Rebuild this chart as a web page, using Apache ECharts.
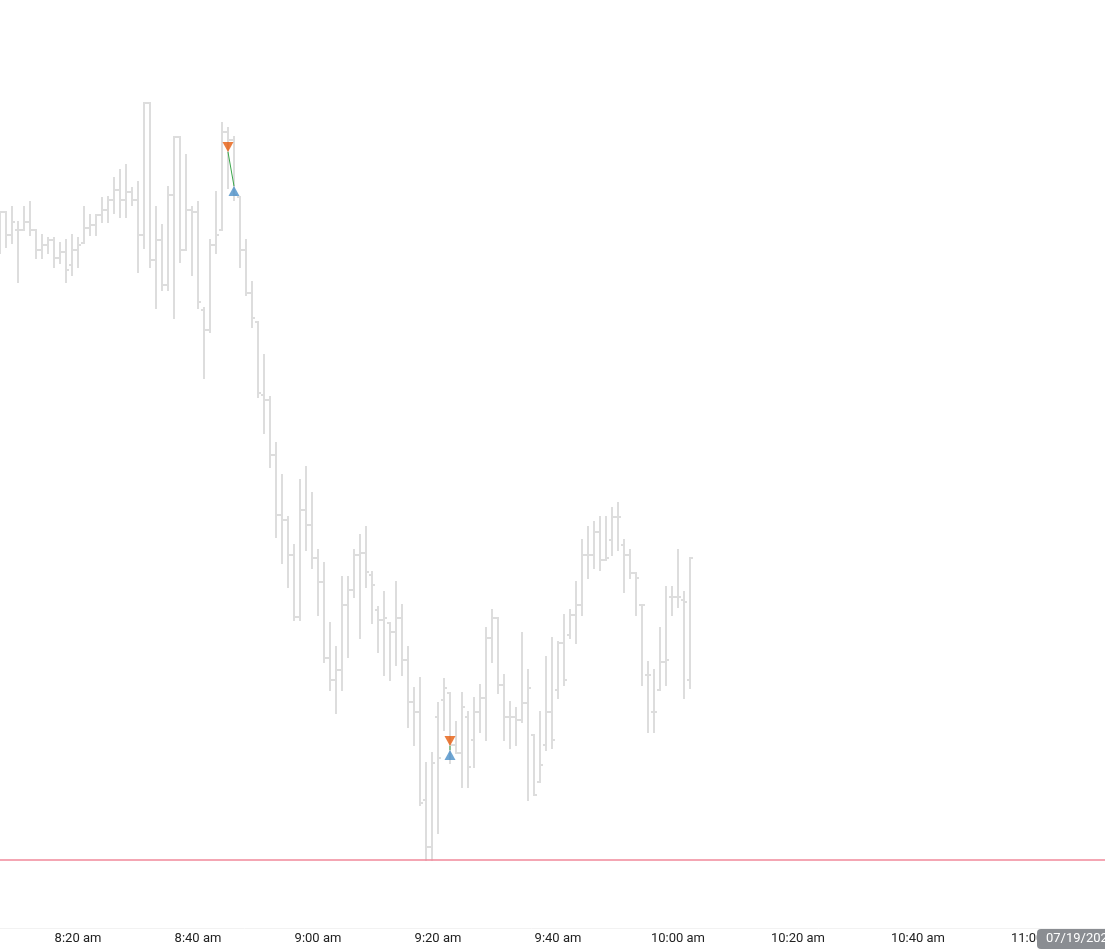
<!DOCTYPE html>
<html>
<head>
<meta charset="utf-8">
<script src="https://cdn.jsdelivr.net/npm/echarts/dist/echarts.min.js"></script>
<style>
    html, body { margin: 0; padding: 0; background: #fff; overflow: hidden; }
    #chart { width: 1105px; height: 949px; }
</style>
</head>
<body>
<div id="chart"></div>

<script>
    // 1 minute bars, first one at 08:07 on 07/19/2023
    var sessionDay = [2023, 6, 19];
    var firstBar = [8, 7];
    var axisStart = [8, 0];
    var viewMinutes = 184.17;

    var barOpen = [
        156.20, 156.48, 156.25, 156.30, 156.30, 156.38, 156.30, 156.10, 156.15, 156.20,
        156.02, 156.08, 155.95, 156.10, 156.17, 156.32, 156.35, 156.45, 156.50, 156.60,
        156.70, 156.60, 156.68, 156.60, 156.25, 157.57, 156.00, 156.20, 155.75, 156.65,
        157.23, 156.10, 156.50, 156.48, 155.50, 155.30, 156.15, 156.30, 157.28, 157.20,
        156.63, 156.10, 155.67, 155.38, 154.65, 154.60, 154.05, 153.45, 153.40, 153.05,
        152.43, 153.50, 153.35, 153.02, 152.78, 152.02, 151.80, 151.90, 152.55, 152.70,
        153.05, 153.07, 152.85, 152.50, 152.40, 152.37, 152.28, 152.42, 152.00, 151.58,
        151.48, 150.60, 150.13, 151.43, 151.60, 151.67, 151.15, 151.07, 151.43, 151.20,
        151.48, 151.62, 152.22, 152.42, 151.75, 151.43, 151.43, 151.40, 151.57, 151.25,
        150.78, 151.15, 151.48, 151.70, 152.17, 152.25, 152.45, 152.55, 153.05, 153.05,
        153.28, 153.00, 153.20, 153.43, 153.15, 153.05, 152.87, 152.55, 151.85, 151.48,
        151.70, 151.98, 152.63, 152.63, 152.60, 151.80
    ];
    var barHigh = [
        156.48, 156.48, 156.53, 156.38, 156.53, 156.58, 156.30, 156.25, 156.22, 156.22,
        156.17, 156.20, 156.25, 156.22, 156.53, 156.45, 156.45, 156.62, 156.63, 156.82,
        156.90, 156.95, 156.72, 156.78, 157.57, 157.57, 156.53, 156.35, 156.73, 157.23,
        157.23, 157.05, 156.53, 156.58, 155.52, 156.20, 156.68, 157.37, 157.32, 157.23,
        156.63, 156.20, 155.78, 155.38, 155.05, 154.63, 154.17, 153.85, 153.43, 153.15,
        153.80, 153.93, 153.67, 153.10, 152.97, 152.37, 152.13, 152.83, 152.83, 153.10,
        153.25, 153.33, 152.88, 152.53, 152.68, 152.37, 152.78, 152.55, 152.13, 151.72,
        151.82, 150.97, 151.07, 151.57, 151.81, 151.67, 151.38, 151.67, 151.48, 151.62,
        151.75, 152.32, 152.50, 152.42, 151.85, 151.58, 151.52, 152.27, 151.90, 151.25,
        151.48, 152.03, 152.22, 152.18, 152.45, 152.50, 152.78, 153.20, 153.33, 153.38,
        153.43, 153.43, 153.52, 153.57, 153.20, 153.10, 152.87, 152.55, 151.98, 151.90,
        152.32, 152.73, 152.73, 153.10, 152.68, 153.02
    ];
    var barLow = [
        156.07, 156.13, 156.17, 155.78, 156.30, 156.25, 156.02, 156.02, 156.07, 155.93,
        155.97, 155.78, 155.85, 155.93, 156.17, 156.25, 156.25, 156.38, 156.38, 156.47,
        156.43, 156.43, 156.55, 155.88, 156.12, 155.93, 155.52, 155.70, 155.70, 155.42,
        155.98, 156.10, 155.85, 155.52, 154.82, 155.28, 156.07, 156.30, 156.72, 156.60,
        155.93, 155.65, 155.33, 154.63, 154.27, 153.93, 153.23, 152.97, 152.73, 152.40,
        152.40, 153.10, 152.92, 152.45, 151.98, 151.70, 151.47, 151.70, 152.03, 152.63,
        152.22, 152.73, 152.37, 152.08, 151.85, 151.80, 151.95, 151.85, 151.33, 151.15,
        150.55, 150.00, 150.00, 150.27, 151.30, 150.97, 151.07, 150.73, 150.73, 150.93,
        151.28, 151.20, 151.98, 151.67, 151.20, 151.12, 151.15, 151.38, 150.60, 150.65,
        150.78, 151.10, 151.12, 151.62, 151.75, 152.22, 152.17, 152.45, 152.82, 152.92,
        152.90, 153.00, 153.05, 153.10, 152.68, 152.82, 152.45, 151.75, 151.28, 151.28,
        151.70, 151.75, 152.45, 152.53, 151.62, 151.72
    ];
    var barClose = [
        156.48, 156.25, 156.38, 156.30, 156.38, 156.30, 156.10, 156.15, 156.20, 156.02,
        156.08, 155.90, 156.10, 156.15, 156.32, 156.35, 156.45, 156.50, 156.60, 156.70,
        156.60, 156.68, 156.60, 156.25, 157.57, 156.00, 156.20, 155.75, 156.65, 157.23,
        156.10, 156.50, 156.48, 155.58, 155.30, 156.15, 156.25, 157.28, 157.20, 156.65,
        156.10, 155.67, 155.42, 154.67, 154.60, 154.05, 153.45, 153.40, 153.05, 152.43,
        153.50, 153.35, 153.02, 152.78, 152.02, 151.80, 151.90, 152.55, 152.70, 153.05,
        153.07, 152.88, 152.75, 152.40, 152.42, 152.28, 152.42, 152.00, 151.58, 151.48,
        150.57, 150.13, 150.97, 151.02, 151.72, 151.15, 151.07, 151.53, 150.93, 151.48,
        151.62, 152.22, 152.42, 151.75, 151.43, 151.43, 151.40, 151.57, 151.72, 150.65,
        150.95, 151.48, 151.20, 152.17, 151.80, 152.45, 152.55, 153.05, 153.05, 153.28,
        153.00, 153.02, 153.43, 153.43, 153.05, 152.87, 152.82, 152.55, 151.85, 151.48,
        151.98, 152.00, 152.63, 152.63, 152.58, 153.02
    ];

    // trades: bar index of entry / exit and prices
    var sellBars = [38, 75];
    var sellPrices = [157.08, 151.14];
    var buyBars = [39, 75];
    var buyPrices = [156.74, 151.10];

    var levelPrice = 150.00;
    var priceMin = 149.32;
    var priceMax = 158.60;

    function barTime(i) {
        return new Date(sessionDay[0], sessionDay[1], sessionDay[2], firstBar[0], firstBar[1] + i).getTime();
    }

    var bars = [];
    for (var i = 0; i < barOpen.length; i++) {
        bars.push([barTime(i), barOpen[i], barHigh[i], barLow[i], barClose[i]]);
    }
    var sells = [], buys = [], tradeLine = [];
    for (var j = 0; j < sellBars.length; j++) {
        sells.push([barTime(sellBars[j]), sellPrices[j]]);
        buys.push([barTime(buyBars[j]), buyPrices[j]]);
        tradeLine.push([barTime(sellBars[j]), sellPrices[j]]);
        tradeLine.push([barTime(buyBars[j]), buyPrices[j]]);
        tradeLine.push([barTime(buyBars[j]), null]);
    }

    function timeLabel(v) {
        var d = new Date(v);
        var h = d.getHours(), m = d.getMinutes();
        var ap = h < 12 ? 'am' : 'pm';
        h = h % 12 || 12;
        return h + ':' + (m < 10 ? '0' : '') + m + ' ' + ap;
    }

    function renderOhlc(params, api) {
        var t = api.value(0);
        var o = api.coord([t, api.value(1)]);
        var hi = api.coord([t, api.value(2)]);
        var lo = api.coord([t, api.value(3)]);
        var c = api.coord([t, api.value(4)]);
        var style = { stroke: '#dddddd', lineWidth: 2 };
        return {
            type: 'group',
            children: [
                { type: 'line', shape: { x1: hi[0], y1: hi[1] - 1, x2: lo[0], y2: lo[1] + 1 }, style: style },
                { type: 'line', shape: { x1: o[0] - 3, y1: o[1], x2: o[0], y2: o[1] }, style: style },
                { type: 'line', shape: { x1: c[0], y1: c[1], x2: c[0] + 3, y2: c[1] }, style: style }
            ]
        };
    }

    // axis starts on a 20 minute boundary (8:00); the part before the first bar (8:07) sits left of the page
    var tickStep = 20 * 60000;
    var axisMin = new Date(sessionDay[0], sessionDay[1], sessionDay[2], axisStart[0], axisStart[1]).getTime();
    var viewStart = barTime(0);
    var axisMax = viewStart + viewMinutes * 60000;
    var pxPerMs = 1105 / (axisMax - viewStart);
    var hiddenLeft = Math.round((viewStart - axisMin) * pxPerMs);

    var box = document.getElementById('chart');
    box.style.width = (1105 + hiddenLeft) + 'px';
    box.style.marginLeft = (-hiddenLeft) + 'px';

    var myChart = echarts.init(box);
    var option = {
        animation: false,
        textStyle: { fontFamily: 'Roboto' },
        grid: { left: 0, right: 0, top: 0, bottom: 21 },
        xAxis: {
            type: 'value',
            min: axisMin,
            max: axisMax,
            interval: tickStep,
            axisLine: { show: true, lineStyle: { color: '#f2f2f2', width: 1 } },
            axisTick: { show: false },
            splitLine: { show: false },
            axisLabel: {
                color: '#222',
                fontSize: 13,
                margin: 4,
                showMinLabel: false,
                showMaxLabel: false,
                hideOverlap: false,
                formatter: timeLabel
            }
        },
        yAxis: {
            type: 'value',
            min: priceMin,
            max: priceMax,
            show: false,
            splitLine: { show: false }
        },
        series: [
            {
                type: 'custom',
                renderItem: renderOhlc,
                encode: { x: 0, y: [1, 2, 3, 4] },
                data: bars,
                clip: true,
                markLine: {
                    silent: true,
                    symbol: 'none',
                    label: { show: false },
                    lineStyle: { color: '#f0899a', width: 1.5, type: 'solid' },
                    data: [{ yAxis: levelPrice }]
                }
            },
            {
                type: 'line',
                data: tradeLine,
                showSymbol: false,
                connectNulls: false,
                lineStyle: { color: '#3aa64a', width: 1 },
                z: 3
            },
            {
                type: 'scatter',
                data: sells,
                symbol: 'triangle',
                symbolRotate: 180,
                symbolSize: [11, 10],
                symbolOffset: [0, -5],
                itemStyle: { color: '#e65c0e' },
                z: 4
            },
            {
                type: 'scatter',
                data: buys,
                symbol: 'triangle',
                symbolSize: [11, 10],
                symbolOffset: [0, 5],
                itemStyle: { color: '#4a8fc8' },
                z: 4
            }
        ],
        graphic: [
            {
                type: 'group',
                right: -40,
                bottom: 0,
                z: 100,
                children: [
                    {
                        type: 'rect',
                        z: 100,
                        shape: { x: 0, y: 0, width: 108, height: 20, r: [4, 0, 0, 4] },
                        style: { fill: '#8a8d92' }
                    },
                    {
                        type: 'text',
                        z: 101,
                        left: 9,
                        top: 3,
                        style: { text: '07/19/2023', fill: '#fff', font: '13px Roboto' }
                    }
                ]
            }
        ]
    };
    myChart.setOption(option);
</script>
</body>
</html>
